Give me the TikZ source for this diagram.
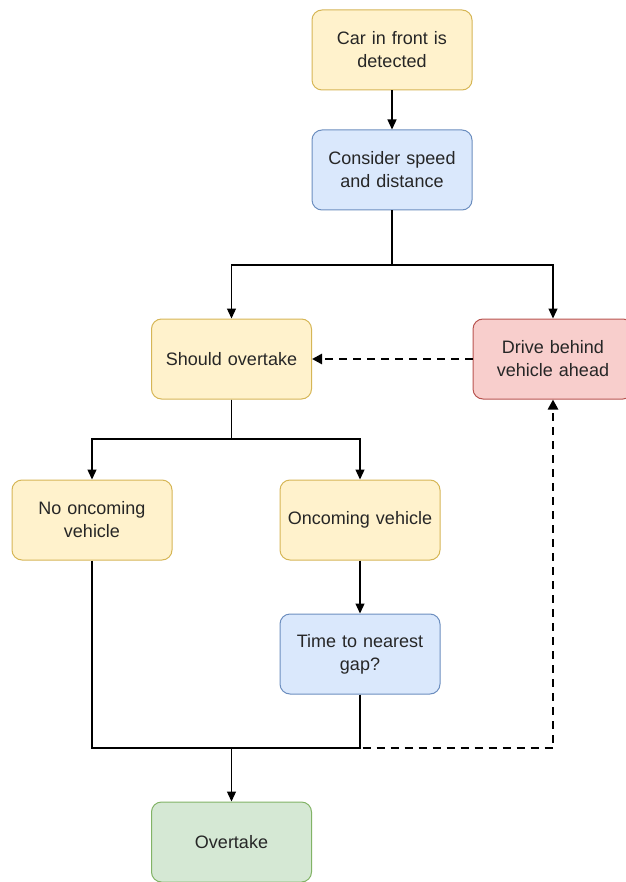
\documentclass[tikz,border=0pt]{standalone}
\usepackage{fontspec}
\setmainfont{Liberation Sans}
\usetikzlibrary{arrows.meta}
\definecolor{yfill}{HTML}{FFF2CC}\definecolor{ydraw}{HTML}{D6B656}
\definecolor{bfill}{HTML}{DAE8FC}\definecolor{bdraw}{HTML}{6C8EBF}
\definecolor{rfill}{HTML}{F8CECC}\definecolor{rdraw}{HTML}{B85450}
\definecolor{gfill}{HTML}{D5E8D4}\definecolor{gdraw}{HTML}{82B366}
\definecolor{txt}{HTML}{262626}
\begin{document}
\begin{tikzpicture}[x=1pt,y=-1pt,
  box/.style={rounded corners=10pt,minimum width=160pt,minimum height=80pt,
    line width=1pt,align=center,text width=155pt,inner sep=0pt,
    font=\fontsize{18}{23}\selectfont,text=txt},
  ybox/.style={box,fill=yfill,draw=ydraw},
  bbox/.style={box,fill=bfill,draw=bdraw},
  rbox/.style={box,fill=rfill,draw=rdraw},
  gbox/.style={box,fill=gfill,draw=gdraw},
  conn/.style={line width=1.3pt,draw=black},
  arr/.style={conn,-{Triangle[length=10pt,width=9pt]}},
  dsh/.style={line width=2.6pt,dash pattern=on 8pt off 6pt,-{Triangle[length=10pt,width=10pt]}}]
\useasboundingbox (0,0) rectangle (625,882);
\node[ybox] (car) at (392,50) {Car in front is\\detected};
\node[bbox] (cons) at (392,170) {Consider speed\\and distance};
\node[ybox] (should) at (231.5,359) {Should overtake};
\node[rbox] (drive) at (553,359) {Drive behind\\vehicle ahead};
\node[ybox] (noonc) at (92,520) {No oncoming\\vehicle};
\node[ybox] (onc) at (360,520) {Oncoming vehicle};
\node[bbox] (gap) at (360,654) {Time to nearest\\gap?};
\node[gbox] (over) at (231.5,842) {Overtake};
\coordinate (s1) at (392,265);
\coordinate (s2) at (231.5,439);
\coordinate (m) at (231.5,748);
\draw[arr] (car) -- (cons);
\draw[arr] (cons.south) |- (s1) -| (should.north);
\draw[arr] (cons.south) |- (s1) -| (drive.north);
\draw[arr] (should.south) |- (s2) -| (noonc.north);
\draw[arr] (should.south) |- (s2) -| (onc.north);
\draw[arr] (onc) -- (gap);
\draw[conn] (noonc.south) |- (m);
\draw[conn] (gap.south) |- (m);
\draw[arr] (m) -- (over.north);
\draw[dsh] (gap.south) |- (m -| drive.south) -- (drive.south);
\draw[dsh] (drive.west) -- (should.east);
\end{tikzpicture}
\end{document}
